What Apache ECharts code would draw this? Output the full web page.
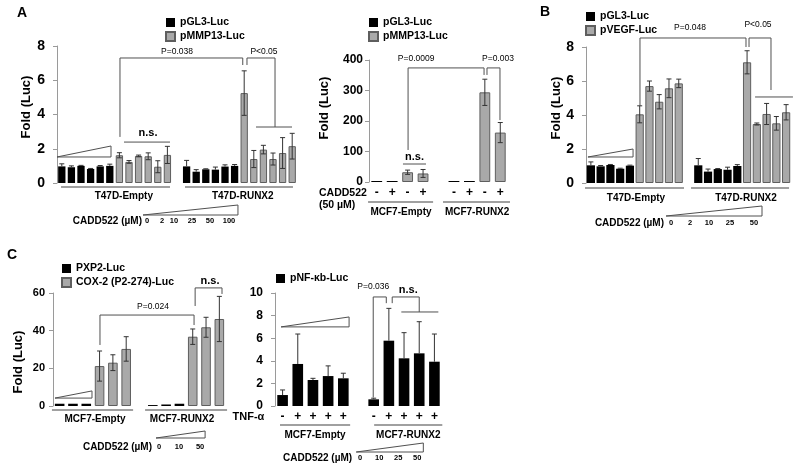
<!DOCTYPE html>
<html><head><meta charset="utf-8">
<script src="https://cdn.jsdelivr.net/npm/echarts@6/dist/echarts.min.js"></script>
<style>html,body{margin:0;padding:0;background:#fff}#c{width:800px;height:470px}</style>
</head><body><div id="c"></div>
<script>
// ================= DATA =================
// Panel A (left): T47D cells, CADD522 0,2,10,25,50,100 uM
const A1_empty_pGL3       = [0.97, 0.92, 1.00, 0.82, 0.97, 1.00];
const A1_empty_pGL3_err   = [0.15, 0.08, 0.03, 0.03, 0.05, 0.10];
const A1_empty_pMMP13     = [1.62, 1.23, 1.58, 1.56, 0.95, 1.64];
const A1_empty_pMMP13_err = [0.15, 0.08, 0.05, 0.20, 0.35, 0.50];
const A1_runx2_pGL3       = [0.97, 0.66, 0.80, 0.78, 0.96, 1.00];
const A1_runx2_pGL3_err   = [0.35, 0.12, 0.03, 0.15, 0.10, 0.08];
const A1_runx2_pMMP13     = [5.25, 1.40, 1.95, 1.40, 1.75, 2.15];
const A1_runx2_pMMP13_err = [1.30, 0.50, 0.25, 0.35, 0.90, 0.75];
const A1_doses = ['0', '2', '10', '25', '50', '100'];

// Panel A (right): MCF7 cells, CADD522 50 uM (- + - +)
const A2_empty_pGL3       = [1.5, 1.5];
const A2_empty_pMMP13     = [32, 28];
const A2_empty_pMMP13_err = [7, 13];
const A2_runx2_pGL3       = [1.5, 1.5];
const A2_runx2_pMMP13     = [294, 162];
const A2_runx2_pMMP13_err = [43, 33];
const A2_signs = ['-', '+', '-', '+'];

// Panel B: T47D cells, pGL3-Luc vs pVEGF-Luc, CADD522 0,2,10,25,50 uM
const B_empty_pGL3       = [1.04, 0.98, 1.06, 0.84, 1.02];
const B_empty_pGL3_err   = [0.20, 0.05, 0.03, 0.03, 0.03];
const B_empty_pVEGF      = [4.04, 5.70, 4.78, 5.57, 5.86];
const B_empty_pVEGF_err  = [0.50, 0.30, 0.42, 0.55, 0.25];
const B_runx2_pGL3       = [1.04, 0.67, 0.82, 0.78, 1.00];
const B_runx2_pGL3_err   = [0.40, 0.15, 0.03, 0.15, 0.08];
const B_runx2_pVEGF      = [7.10, 3.47, 4.06, 3.51, 4.16];
const B_runx2_pVEGF_err  = [0.68, 0.06, 0.62, 0.40, 0.45];
const B_doses = ['0', '2', '10', '25', '50'];

// Panel C (left): MCF7 cells, PXP2-Luc vs COX-2 (P2-274)-Luc, CADD522 0,10,50 uM
const C1_empty_PXP2      = [1.2, 1.2, 1.2];
const C1_empty_COX2      = [21.2, 23.0, 30.3];
const C1_empty_COX2_err  = [8.0, 4.2, 6.5];
const C1_runx2_PXP2      = [0.5, 0.8, 1.2];
const C1_runx2_COX2      = [36.8, 41.8, 46.2];
const C1_runx2_COX2_err  = [4.1, 5.3, 12.0];
const C1_doses = ['0', '10', '50'];

// Panel C (right): pNF-kb-Luc, TNF-alpha, CADD522 0,10,25,50 uM
const C2_empty_NFkb      = [0.97, 3.72, 2.30, 2.65, 2.45];
const C2_empty_NFkb_err  = [0.45, 2.65, 0.15, 0.90, 0.45];
const C2_runx2_NFkb      = [0.59, 5.78, 4.22, 4.66, 3.92];
const C2_runx2_NFkb_err  = [0.10, 2.86, 2.27, 2.80, 2.45];
const C2_tnf = ['-', '+', '+', '+', '+'];
const C2_doses = ['0', '10', '25', '50'];

// ================= STYLE =================
const FAM = '"Liberation Sans", Arial, sans-serif';
const GRAY = '#a9a9a9', GRAYB = '#5e5e5e';
const GF = 'bold 10px ' + FAM;      // group labels
const PF = '8.5px ' + FAM;          // p-values
const NS = 'bold 11px ' + FAM;      // n.s.
const DF = 'bold 7.5px ' + FAM;     // doses
const SF = 'bold 12px ' + FAM;      // +/- signs

function doseAnn(labels, xs, dy){ return labels.map((s,i)=>({t:'btxt', x:xs[i], dy:dy, s:s, f:DF})); }
function signAnn(labels, xs, dy){ return labels.map((s,i)=>({t:'btxt', x:xs[i], dy:dy, s:s, f:SF})); }

const panels = [
 { // A left
  left:57, top:46, width:240, height:137, n:25, ymax:8, interval:2, lsize:14, lmargin:12, gap:'24%',
  names:['pGL3-Luc','pMMP13-Luc'], legend:{left:165, top:17},
  segs:[{s:0, v:A1_empty_pGL3, e:A1_empty_pGL3_err}, {s:6, v:A1_empty_pMMP13, e:A1_empty_pMMP13_err, g:1},
        {s:13, v:A1_runx2_pGL3, e:A1_runx2_pGL3_err}, {s:19, v:A1_runx2_pMMP13, e:A1_runx2_pMMP13_err, g:1}],
  ann:[
   {t:'br', x1:6.06, x2:18.85, y:7.3, e1:2.69, e2:6.89},
   {t:'br', x1:19.29, x2:22.21, y:7.3, e1:6.89, e2:3.27},
   {t:'hl', x1:20.23, x2:23.98, y:3.27},
   {t:'hl', x1:6.48, x2:11.27, y:2.39},
   {t:'txt', x:8.98, y:2.92, s:'n.s.', f:NS},
   {t:'txt', x:12.0, y:7.65, s:'P=0.038', f:PF},
   {t:'txt', x:21.06, y:7.65, s:'P<0.05', f:PF},
   {t:'tri', x1:-0.5, x2:5.125, lo:1.52, hi:2.16},
   {t:'bhl', x1:-0.08, x2:11.27, dy:4},
   {t:'bhl', x1:12.83, x2:24.08, dy:4},
   {t:'btxt', x:6.46, dy:13, s:'T47D-Empty', f:GF},
   {t:'btxt', x:18.85, dy:13, s:'T47D-RUNX2', f:GF},
   {t:'btri', x1:8.46, x2:18.35, dlo:32, dhi:22},
   {t:'btxt', x:8.35, dy:38, s:'CADD522 (µM)', f:GF, al:'right'}
  ].concat(doseAnn(A1_doses, [8.875, 10.44, 11.69, 13.56, 15.44, 17.42], 38))
 },
 { // A right
  left:369, top:60, width:139, height:122, n:9, ymax:400, interval:100, lsize:12, lmargin:6, gap:'30%', minH:1,
  names:['pGL3-Luc','pMMP13-Luc'], legend:{left:368, top:17},
  segs:[{s:0, v:A2_empty_pGL3}, {s:2, v:A2_empty_pMMP13, e:A2_empty_pMMP13_err, g:1},
        {s:5, v:A2_runx2_pGL3}, {s:7, v:A2_runx2_pMMP13, e:A2_runx2_pMMP13_err, g:1}],
  ann:[
   {t:'br', x1:2.03, x2:6.95, y:374, e1:105, e2:351},
   {t:'br', x1:7.14, x2:7.98, y:374, e1:351, e2:203},
   {t:'txt', x:2.55, y:403, s:'P=0.0009', f:PF},
   {t:'txt', x:7.85, y:403, s:'P=0.003', f:PF},
   {t:'hl', x1:1.7, x2:3.19, y:59},
   {t:'txt', x:2.45, y:82, s:'n.s.', f:NS},
   {t:'btxt', x:-3.74, dy:11, s:'CADD522', f:'bold 10.5px '+FAM, al:'left'},
   {t:'btxt', x:-3.74, dy:23, s:'(50 µM)', f:'bold 10.5px '+FAM, al:'left'},
   {t:'bhl', x1:-0.56, x2:3.65, dy:20},
   {t:'bhl', x1:4.29, x2:8.63, dy:20},
   {t:'btxt', x:1.57, dy:30, s:'MCF7-Empty', f:GF},
   {t:'btxt', x:6.5, dy:30, s:'MCF7-RUNX2', f:GF}
  ].concat(signAnn(A2_signs, [0,1,2,3], 11), signAnn(A2_signs, [5,6,7,8], 11))
 },
 { // B
  left:586, top:47, width:205, height:136, n:21, ymax:8, interval:2, lsize:14, lmargin:12, gap:'16%',
  names:['pGL3-Luc','pVEGF-Luc'], legend:{left:585, top:11},
  segs:[{s:0, v:B_empty_pGL3, e:B_empty_pGL3_err}, {s:5, v:B_empty_pVEGF, e:B_empty_pVEGF_err, g:1},
        {s:11, v:B_runx2_pGL3, e:B_runx2_pGL3_err}, {s:16, v:B_runx2_pVEGF, e:B_runx2_pVEGF_err, g:1}],
  ann:[
   {t:'br', x1:5.03, x2:15.89, y:8.53, e1:4.53, e2:8.0},
   {t:'br', x1:16.2, x2:18.45, y:8.53, e1:8.0, e2:5.47},
   {t:'hl', x1:16.82, x2:20.7, y:5.06},
   {t:'txt', x:10.16, y:9.12, s:'P=0.048', f:PF},
   {t:'txt', x:17.12, y:9.29, s:'P<0.05', f:PF},
   {t:'tri', x1:-0.3, x2:4.32, lo:1.53, hi:2.0},
   {t:'bhl', x1:-0.6, x2:9.54, dy:5},
   {t:'bhl', x1:10.26, x2:20.3, dy:5},
   {t:'btxt', x:4.62, dy:15, s:'T47D-Empty', f:GF},
   {t:'btxt', x:15.89, dy:15, s:'T47D-RUNX2', f:GF},
   {t:'btri', x1:7.7, x2:17.53, dlo:33, dhi:23},
   {t:'btxt', x:7.49, dy:40, s:'CADD522 (µM)', f:GF, al:'right'}
  ].concat(doseAnn(B_doses, [8.21, 10.16, 12.1, 14.25, 16.71], 40))
 },
 { // C left
  left:53, top:293, width:173, height:113, n:13, ymax:60, interval:20, lsize:11, lmargin:8, gap:'28%',
  names:['PXP2-Luc','COX-2 (P2-274)-Luc'], legend:{left:61, top:263},
  segs:[{s:0, v:C1_empty_PXP2}, {s:3, v:C1_empty_COX2, e:C1_empty_COX2_err, g:1},
        {s:7, v:C1_runx2_PXP2}, {s:10, v:C1_runx2_COX2, e:C1_runx2_COX2_err, g:1}],
  ann:[
   {t:'br', x1:3.03, x2:10.1, y:48.3, e1:32.4, e2:43},
   {t:'txt', x:7.02, y:52.6, s:'P=0.024', f:PF},
   {t:'br', x1:10.18, x2:12.2, y:62.7, e1:53.1, e2:59.5},
   {t:'txt', x:11.3, y:66.4, s:'n.s.', f:NS},
   {t:'tri', x1:-0.35, x2:2.43, lo:4.2, hi:8},
   {t:'bhl', x1:-0.58, x2:5.52, dy:4},
   {t:'bhl', x1:6.42, x2:12.58, dy:4},
   {t:'btxt', x:2.66, dy:13, s:'MCF7-Empty', f:GF},
   {t:'btxt', x:9.2, dy:13, s:'MCF7-RUNX2', f:GF},
   {t:'btri', x1:7.24, x2:10.93, dlo:32, dhi:25},
   {t:'btxt', x:6.94, dy:41, s:'CADD522 (µM)', f:GF, al:'right'}
  ].concat(doseAnn(C1_doses, [7.47, 8.97, 10.55], 41))
 },
 { // C right
  left:275, top:293, width:167, height:113, n:11, ymax:10, interval:2, lsize:12, lmargin:12, gap:'30%',
  names:['pNF-κb-Luc'], legend:{left:276, top:273},
  segs:[{s:0, v:C2_empty_NFkb, e:C2_empty_NFkb_err}, {s:6, v:C2_runx2_NFkb, e:C2_runx2_NFkb_err}],
  ann:[
   {t:'br', x1:5.97, x2:6.83, y:9.65, e1:0.75, e2:9.1},
   {t:'br', x1:7.22, x2:9.0, y:9.65, e1:9.1, e2:8.32},
   {t:'hl', x1:7.82, x2:10.26, y:8.32},
   {t:'txt', x:5.97, y:10.53, s:'P=0.036', f:PF},
   {t:'txt', x:8.28, y:10.27, s:'n.s.', f:NS},
   {t:'tri', x1:-0.1, x2:4.38, lo:7.0, hi:7.88},
   {t:'btxt', x:-1.2, dy:11, s:'TNF-α', f:'bold 11px '+FAM, al:'right'},
   {t:'bhl', x1:-0.17, x2:4.45, dy:19},
   {t:'bhl', x1:6.03, x2:10.52, dy:19},
   {t:'btxt', x:2.14, dy:29, s:'MCF7-Empty', f:GF},
   {t:'btxt', x:8.28, dy:29, s:'MCF7-RUNX2', f:GF},
   {t:'btri', x1:4.85, x2:9.27, dlo:46, dhi:37},
   {t:'btxt', x:4.58, dy:52, s:'CADD522 (µM)', f:GF, al:'right'}
  ].concat(signAnn(C2_tnf, [0,1,2,3,4], 11), signAnn(C2_tnf, [6,7,8,9,10], 11), doseAnn(C2_doses, [5.11, 6.36, 7.62, 8.87], 52))
 }
];

function errRender(params, api){
  const e = api.value(2);
  if (!e) return null;
  const x = api.value(0), v = api.value(1), upOnly = api.value(3);
  const t = api.coord([x, v + e]), b = api.coord([x, upOnly ? v : v - e]);
  const c = 2.5, st = {stroke:'#333', lineWidth:1};
  const ch = [
    {type:'line', shape:{x1:t[0], y1:t[1], x2:b[0], y2:b[1]}, style:st},
    {type:'line', shape:{x1:t[0]-c, y1:t[1], x2:t[0]+c, y2:t[1]}, style:st}];
  if (!upOnly) ch.push({type:'line', shape:{x1:b[0]-c, y1:b[1], x2:b[0]+c, y2:b[1]}, style:st});
  return {type:'group', children:ch};
}

function txtEl(x, y, s, f, al){
  return {type:'text', x:x, y:y, style:{text:s, font:f, fill:'#000', align:al||'center', verticalAlign:'middle', textAlign:al||'center', textVerticalAlign:'middle'}};
}

function annotRender(list){
  return function(params, api){
    const a = list[params.dataIndex];
    const bw = api.size([1, 0])[0];
    const o = api.coord([0, 0]);
    const X = i => o[0] + i * bw;
    const Y = v => api.coord([0, v])[1];
    const base = o[1];
    const ls = {stroke:'#505050', lineWidth:1, fill:null};
    const gs = {stroke:'#808080', lineWidth:1.3, fill:null};
    switch (a.t) {
      case 'br': return {type:'polyline', shape:{points:[[X(a.x1),Y(a.e1)],[X(a.x1),Y(a.y)],[X(a.x2),Y(a.y)],[X(a.x2),Y(a.e2)]]}, style:ls};
      case 'hl': return {type:'line', shape:{x1:X(a.x1), y1:Y(a.y), x2:X(a.x2), y2:Y(a.y)}, style:ls};
      case 'txt': return txtEl(X(a.x), Y(a.y), a.s, a.f, a.al);
      case 'tri': return {type:'polygon', shape:{points:[[X(a.x1),Y(a.lo)],[X(a.x2),Y(a.hi)],[X(a.x2),Y(a.lo)]]}, style:ls};
      case 'bhl': return {type:'line', shape:{x1:X(a.x1), y1:base+a.dy, x2:X(a.x2), y2:base+a.dy}, style:gs};
      case 'btxt': return txtEl(X(a.x), base + a.dy, a.s, a.f, a.al);
      case 'btri': return {type:'polygon', shape:{points:[[X(a.x1),base+a.dlo],[X(a.x2),base+a.dhi],[X(a.x2),base+a.dlo]]}, style:ls};
    }
    return null;
  };
}

const option = {animation:false, backgroundColor:'#fff', grid:[], xAxis:[], yAxis:[], series:[], legend:[], graphic:[]};
panels.forEach((p, k) => {
  option.grid.push({left:p.left, top:p.top, width:p.width, height:p.height});
  option.xAxis.push({type:'category', gridIndex:k, data:Array.from({length:p.n}, (_, i) => String(i)), show:false});
  option.yAxis.push({type:'value', gridIndex:k, min:0, max:p.ymax, interval:p.interval,
    axisLine:{show:true, lineStyle:{color:'#9a9a9a', width:1}},
    axisTick:{show:true, length:4, lineStyle:{color:'#9a9a9a'}},
    splitLine:{show:false},
    axisLabel:{color:'#000', fontWeight:'bold', fontSize:p.lsize, fontFamily:FAM, margin:p.lmargin}});
  const blk = Array(p.n).fill(null), gry = Array(p.n).fill(null), errs = [];
  p.segs.forEach(sg => sg.v.forEach((v, i) => {
    const idx = sg.s + i;
    (sg.g ? gry : blk)[idx] = v;
    errs.push([idx, v, sg.e ? sg.e[i] : 0, sg.g ? 0 : 1]);
  }));
  option.series.push({type:'bar', name:p.names[0], xAxisIndex:k, yAxisIndex:k, data:blk, barGap:'-100%', barCategoryGap:p.gap,
    barMinHeight:p.minH || 0, itemStyle:{color:'#000'}, silent:true});
  if (p.names[1]) option.series.push({type:'bar', name:p.names[1], xAxisIndex:k, yAxisIndex:k, data:gry, barGap:'-100%', barCategoryGap:p.gap,
    itemStyle:{color:GRAY, borderColor:GRAYB, borderWidth:1}, silent:true});
  option.series.push({type:'custom', xAxisIndex:k, yAxisIndex:k, data:errs, renderItem:errRender, z:5, clip:false, silent:true,
    encode:{x:0, y:1}});
  option.series.push({type:'custom', xAxisIndex:k, yAxisIndex:k, data:p.ann.map(() => [0, 0]), renderItem:annotRender(p.ann), z:6, clip:false, silent:true,
    encode:{x:0, y:1}});
  option.legend.push({data:p.names, orient:'vertical', left:p.legend.left, top:p.legend.top, itemWidth:9, itemHeight:9, itemGap:3,
    icon:'rect', selectedMode:false, padding:0, textStyle:{color:'#000', fontWeight:'bold', fontSize:10.5, fontFamily:FAM}});
});

// panel letters and y-axis titles
const yTitleFont = 'bold 13px ' + FAM;
[['A', 22, 13], ['B', 545, 12], ['C', 12, 255]].forEach(([s, x, y]) =>
  option.graphic.push({type:'text', x:x, y:y, style:{text:s, font:'bold 14px ' + FAM, fill:'#000', align:'center', verticalAlign:'middle', textAlign:'center', textVerticalAlign:'middle'}}));
[[26, 107], [324, 108], [556, 108], [18, 362]].forEach(([x, y]) =>
  option.graphic.push({type:'text', x:x, y:y, rotation:Math.PI/2, style:{text:'Fold (Luc)', font:yTitleFont, fill:'#000', align:'center', verticalAlign:'middle', textAlign:'center', textVerticalAlign:'middle'}}));

const chart = echarts.init(document.getElementById('c'));
chart.setOption(option);
</script>
</body></html>
